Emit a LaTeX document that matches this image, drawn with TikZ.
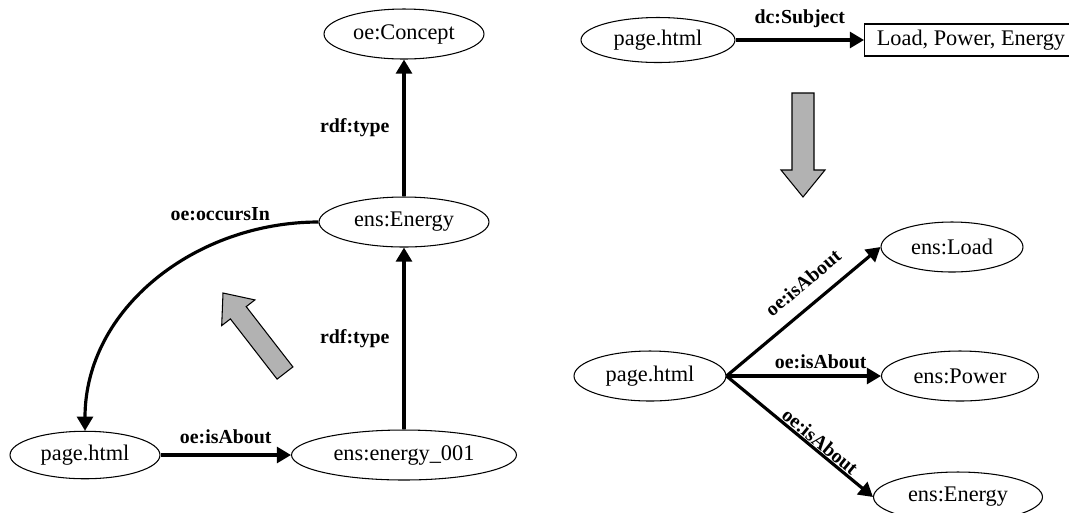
\documentclass[tikz,border=0pt]{standalone}
\usepackage{fontspec}
\setmainfont{Liberation Serif}
\usetikzlibrary{arrows.meta,shapes.geometric}
\tikzset{
	ent/.style={ellipse, draw, line width=0.6pt, minimum height=1cm, inner sep=0pt, font=\fontsize{12.7}{15}\selectfont},
	lit/.style={rectangle, draw, line width=0.6pt, minimum height=0.58cm, inner xsep=7pt, font=\fontsize{12.7}{15}\selectfont},
	rel/.style={line width=1.8pt, -{Triangle[length=8pt,width=9pt]}},
	lbl/.style={font=\fontsize{11.3}{13}\selectfont\bfseries, text=black},
	bigarrow/.style={draw=black, line width=0.6pt, fill=black!30}
}

\begin{document}
\begin{tikzpicture}[x=0.02cm, y=-0.02cm]
			%%%%% START %%%%%
			\useasboundingbox (0,0) rectangle (1069,512);
			
			% left: result after the mapping
			\node[ent, minimum width=3.2cm] (concept) at (404, 34) {oe:Concept};
			\node[ent, minimum width=3.4cm] (energy) at (404, 222) {ens:Energy};
			\node[ent, minimum width=4.5cm] (e001) at (404, 455) {ens:energy\_001};
			\node[ent, minimum width=3cm, minimum height=0.95cm] (page) at (85, 455) {page.html};
			
			\draw[rel] (energy) -- node[lbl, left=4pt] {rdf:type} (concept);
			\draw[rel] (e001) -- node[lbl, left=4pt] {rdf:type} (energy);
			\draw[rel] (page) -- node[lbl, above=2pt] {oe:isAbout} (e001);
			\draw[rel] (energy.west) to[out=180, in=90] node[lbl, pos=0.12, above left, inner sep=2pt] {oe:occursIn} (page.north);
			
			\draw[bigarrow] (223, 293) -- (254.9, 299.9) -- (246.2, 306.6) -- (292.9, 366.9) -- (277.1, 379.1) -- (230.4, 318.9) -- (221.7, 325.6) -- cycle;
			
			% right: before and after
			\node[ent, minimum width=3.08cm, minimum height=0.9cm] (pagetop) at (658, 40) {page.html};
			\node[lit, anchor=west] (subjects) at (864, 40) {Load, Power, Energy};
			\draw[rel] (pagetop) -- node[lbl, above=3pt] {dc:Subject} (subjects);
			
			\draw[bigarrow] (792, 93) -- (814, 93) -- (814, 170) -- (825, 170) -- (803, 197) -- (781, 170) -- (792, 170) -- cycle;
			
			\node[ent, minimum width=3.04cm] (pagebot) at (650, 376) {page.html};
			\node[ent, minimum width=2.84cm] (load) at (952, 247) {ens:Load};
			\node[ent, minimum width=3.14cm] (power) at (960, 376) {ens:Power};
			\node[ent, minimum width=3.38cm] (energyb) at (958, 497) {ens:Energy};
			
			\draw[rel] (pagebot.east) -- node[lbl, pos=0.59, sloped, above=4.5pt] {oe:isAbout} (load.west);
			\draw[rel] (pagebot.east) -- node[lbl, pos=0.61, above] {oe:isAbout} (power.west);
			\draw[rel] (pagebot.east) -- node[lbl, pos=0.6, sloped, above=-3pt] {oe:isAbout} (energyb.west);
			
			%%%%% END %%%%%
\end{tikzpicture}
\end{document}
